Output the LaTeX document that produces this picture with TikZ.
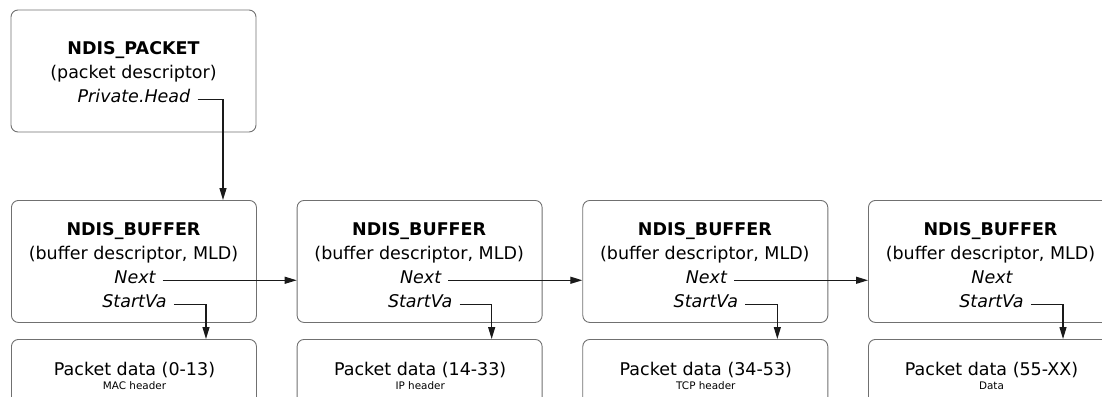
\documentclass[tikz,border=0pt]{standalone}
\usepackage{fontspec}
\setmainfont{DejaVu Sans}
\usetikzlibrary{arrows.meta,calc}
\definecolor{boxline}{HTML}{707070}
\definecolor{arrline}{HTML}{1A1A1A}
\begin{document}
\begin{tikzpicture}[x=1pt,y=-1pt,
  desc/.style={draw=boxline,line width=0.9pt,rounded corners=7pt},
  lbl/.style={inner sep=0pt,anchor=base,font=\fontsize{17.5}{21}\selectfont},
  small/.style={inner sep=0pt,anchor=base,font=\fontsize{10.4}{12}\selectfont},
  link/.style={draw=arrline,line width=1.2pt,-{Triangle[length=12pt,width=7pt]}}]
\useasboundingbox (0,0) rectangle (1102,396);
\clip (0,0) rectangle (1102,396);

% packet descriptor
\draw[desc] (11,10) rectangle (256,132);
\node[lbl] (pkt) at (133.5,55) {\bfseries NDIS\_PACKET};
\node[lbl] (pktd) at (133.5,78.5) {(packet descriptor)};
\node[lbl] (head) at (134,102) {\itshape Private.Head};

% buffer descriptors and packet data
\foreach \i/\rng/\sub in {1/0-13/MAC header,2/14-33/IP header,3/34-53/TCP header,4/55-XX/Data}{
  \pgfmathsetmacro{\xl}{11+285.67*(\i-1)}
  \pgfmathsetmacro{\xc}{\xl+122.5}
  \node[desc,minimum width=245pt,minimum height=122pt,anchor=north west,inner sep=0pt] (buf\i) at (\xl,200) {};
  \node[desc,minimum width=245pt,minimum height=100pt,anchor=north west,inner sep=0pt] (dat\i) at (\xl,339) {};
  \node[lbl] (bt\i) at (\xc,235) {\bfseries NDIS\_BUFFER};
  \node[lbl] (bd\i) at (\xc,259) {(buffer descriptor, MLD)};
  \node[lbl] (nx\i) at (\xc+1.5,283) {\itshape Next};
  \node[lbl] (sv\i) at (\xc+1,307) {\itshape StartVa};
  \node[lbl] (pd\i) at (\xc+1,375) {Packet data (\rng)};
  \node[small] (ps\i) at (\xc+1,389) {\sub};
  \coordinate (drop\i) at (\xl+195,0);
  \draw[link] ([xshift=7pt]sv\i.mid east) -| (drop\i |- dat\i.north);
}

% chain of Next pointers
\foreach \a/\b in {1/2,2/3,3/4}{
  \draw[link] ([xshift=7pt]nx\a.mid east) -- (nx\a.mid east -| buf\b.west);
}

% head pointer into the first buffer
\coordinate (hdrop) at (223,0);
\draw[link] ([xshift=7pt]head.mid east) -| (hdrop |- buf1.north);
\end{tikzpicture}
\end{document}
